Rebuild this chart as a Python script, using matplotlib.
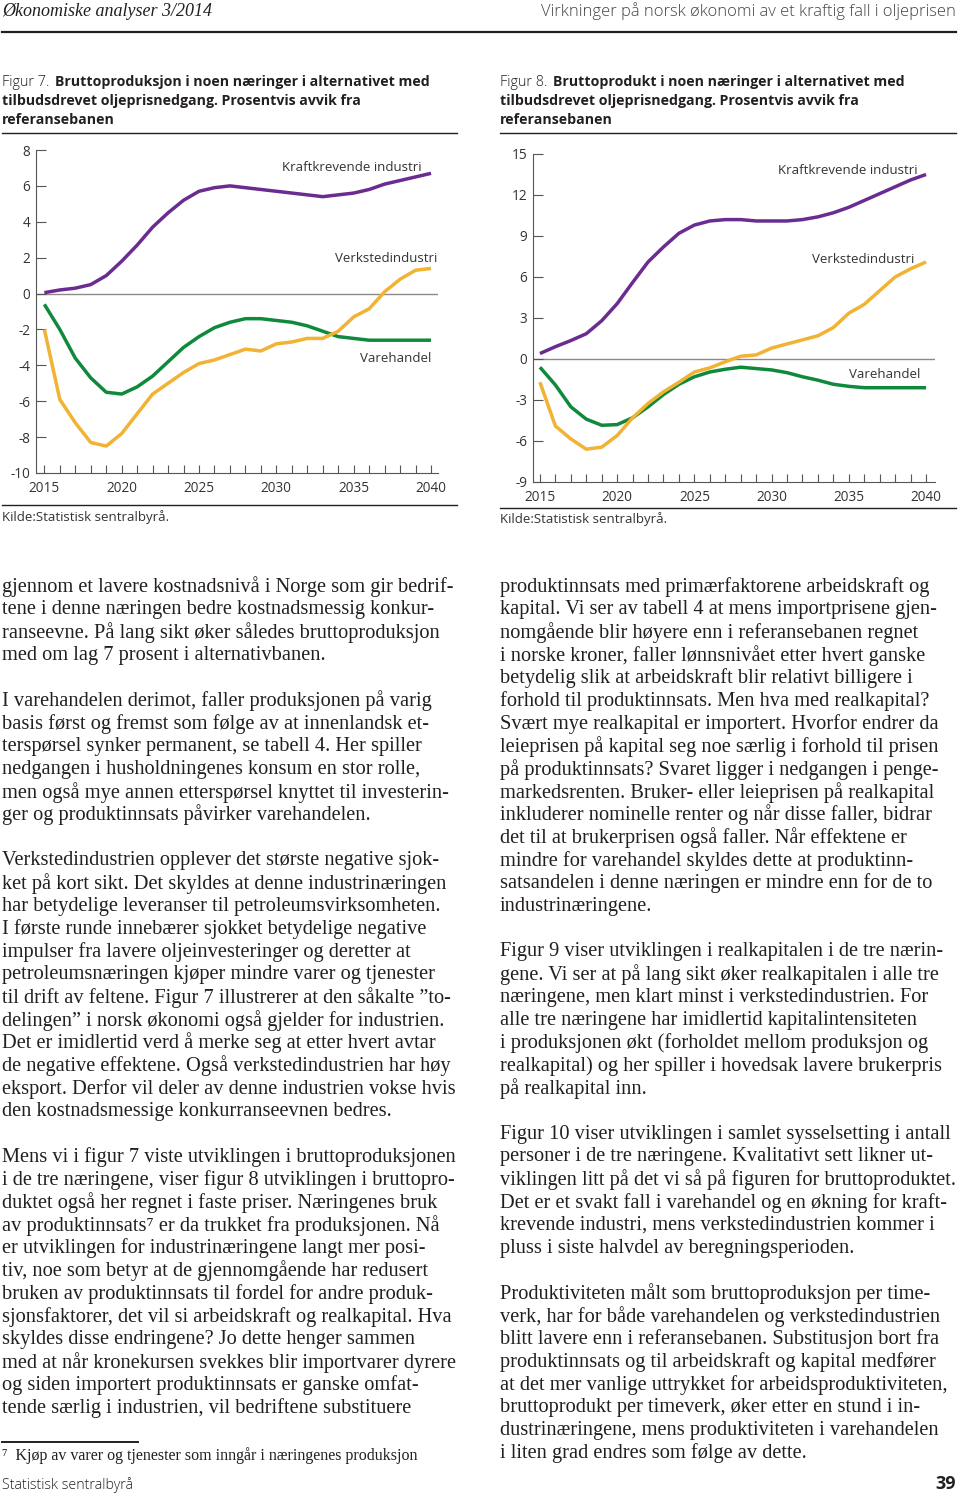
import numpy as np
import matplotlib.pyplot as plt
from matplotlib.lines import Line2D

# ---- data ----
years = np.arange(2015, 2041)

# Figur 7: Bruttoproduksjon, prosentvis avvik fra referansebanen
f7_kraft = [0.05, 0.2, 0.3, 0.5, 1.0, 1.8, 2.7, 3.7, 4.5, 5.2, 5.7, 5.9, 6.0,
            5.9, 5.8, 5.7, 5.6, 5.5, 5.4, 5.5, 5.6, 5.8, 6.1, 6.3, 6.5, 6.7]
f7_verksted = [-2.0, -5.9, -7.2, -8.3, -8.5, -7.8, -6.7, -5.6, -5.0, -4.4, -3.9,
               -3.7, -3.4, -3.1, -3.2, -2.8, -2.7, -2.5, -2.5, -2.1, -1.3, -0.85,
               0.1, 0.8, 1.3, 1.4]
f7_vare = [-0.6, -2.0, -3.6, -4.7, -5.5, -5.6, -5.2, -4.6, -3.8, -3.0, -2.4, -1.9,
           -1.6, -1.4, -1.4, -1.5, -1.6, -1.8, -2.1, -2.4, -2.5, -2.6, -2.6, -2.6,
           -2.6, -2.6]

# Figur 8: Bruttoprodukt
f8_kraft = [0.4, 0.9, 1.35, 1.85, 2.8, 4.05, 5.6, 7.1, 8.2, 9.2, 9.8, 10.1, 10.2,
            10.2, 10.1, 10.1, 10.1, 10.2, 10.4, 10.7, 11.1, 11.6, 12.1, 12.6, 13.1,
            13.5]
f8_verksted = [-1.7, -4.9, -5.85, -6.6, -6.45, -5.6, -4.3, -3.25, -2.4, -1.7, -0.95,
               -0.65, -0.2, 0.2, 0.3, 0.8, 1.1, 1.4, 1.7, 2.3, 3.35, 4.0, 5.0, 6.0,
               6.6, 7.1]
f8_vare = [-0.6, -1.9, -3.5, -4.4, -4.85, -4.8, -4.3, -3.5, -2.6, -1.85, -1.3,
           -0.95, -0.75, -0.6, -0.7, -0.8, -1.0, -1.3, -1.55, -1.85, -2.0, -2.1,
           -2.1, -2.1, -2.1, -2.1]

series_names = ["Kraftkrevende industri", "Verkstedindustri", "Varehandel"]
f7_yticks = [8, 6, 4, 2, 0, -2, -4, -6, -8, -10]
f8_yticks = [15, 12, 9, 6, 3, 0, -3, -6, -9]
xtick_years = [2015, 2020, 2025, 2030, 2035, 2040]

# ---- page text ----
left_col = [
    "gjennom et lavere kostnadsnivå i Norge som gir bedrif-",
    "tene i denne næringen bedre kostnadsmessig konkur-",
    "ranseevne. På lang sikt øker således bruttoproduksjon",
    "med om lag 7 prosent i alternativbanen.",
    "",
    "I varehandelen derimot, faller produksjonen på varig",
    "basis først og fremst som følge av at innenlandsk et-",
    "terspørsel synker permanent, se tabell 4. Her spiller",
    "nedgangen i husholdningenes konsum en stor rolle,",
    "men også mye annen etterspørsel knyttet til investerin-",
    "ger og produktinnsats påvirker varehandelen.",
    "",
    "Verkstedindustrien opplever det største negative sjok-",
    "ket på kort sikt. Det skyldes at denne industrinæringen",
    "har betydelige leveranser til petroleumsvirksomheten.",
    "I første runde innebærer sjokket betydelige negative",
    "impulser fra lavere oljeinvesteringer og deretter at",
    "petroleumsnæringen kjøper mindre varer og tjenester",
    "til drift av feltene. Figur 7 illustrerer at den såkalte \u201dto-",
    "delingen\u201d i norsk økonomi også gjelder for industrien.",
    "Det er imidlertid verd å merke seg at etter hvert avtar",
    "de negative effektene. Også verkstedindustrien har høy",
    "eksport. Derfor vil deler av denne industrien vokse hvis",
    "den kostnadsmessige konkurranseevnen bedres.",
    "",
    "Mens vi i figur 7 viste utviklingen i bruttoproduksjonen",
    "i de tre næringene, viser figur 8 utviklingen i bruttopro-",
    "duktet også her regnet i faste priser. Næringenes bruk",
    "av produktinnsats\u2077 er da trukket fra produksjonen. Nå",
    "er utviklingen for industrinæringene langt mer posi-",
    "tiv, noe som betyr at de gjennomgående har redusert",
    "bruken av produktinnsats til fordel for andre produk-",
    "sjonsfaktorer, det vil si arbeidskraft og realkapital. Hva",
    "skyldes disse endringene? Jo dette henger sammen",
    "med at når kronekursen svekkes blir importvarer dyrere",
    "og siden importert produktinnsats er ganske omfat-",
    "tende særlig i industrien, vil bedriftene substituere",
]
right_col = [
    "produktinnsats med primærfaktorene arbeidskraft og",
    "kapital. Vi ser av tabell 4 at mens importprisene gjen-",
    "nomgående blir høyere enn i referansebanen regnet",
    "i norske kroner, faller lønnsnivået etter hvert ganske",
    "betydelig slik at arbeidskraft blir relativt billigere i",
    "forhold til produktinnsats. Men hva med realkapital?",
    "Svært mye realkapital er importert. Hvorfor endrer da",
    "leieprisen på kapital seg noe særlig i forhold til prisen",
    "på produktinnsats? Svaret ligger i nedgangen i penge-",
    "markedsrenten. Bruker- eller leieprisen på realkapital",
    "inkluderer nominelle renter og når disse faller, bidrar",
    "det til at brukerprisen også faller. Når effektene er",
    "mindre for varehandel skyldes dette at produktinn-",
    "satsandelen i denne næringen er mindre enn for de to",
    "industrinæringene.",
    "",
    "Figur 9 viser utviklingen i realkapitalen i de tre nærin-",
    "gene. Vi ser at på lang sikt øker realkapitalen i alle tre",
    "næringene, men klart minst i verkstedindustrien. For",
    "alle tre næringene har imidlertid kapitalintensiteten",
    "i produksjonen økt (forholdet mellom produksjon og",
    "realkapital) og her spiller i hovedsak lavere brukerpris",
    "på realkapital inn.",
    "",
    "Figur 10 viser utviklingen i samlet sysselsetting i antall",
    "personer i de tre næringene. Kvalitativt sett likner ut-",
    "viklingen litt på det vi så på figuren for bruttoproduktet.",
    "Det er et svakt fall i varehandel og en økning for kraft-",
    "krevende industri, mens verkstedindustrien kommer i",
    "pluss i siste halvdel av beregningsperioden.",
    "",
    "Produktiviteten målt som bruttoproduksjon per time-",
    "verk, har for både varehandelen og verkstedindustrien",
    "blitt lavere enn i referansebanen. Substitusjon bort fra",
    "produktinnsats og til arbeidskraft og kapital medfører",
    "at det mer vanlige uttrykket for arbeidsproduktiviteten,",
    "bruttoprodukt per timeverk, øker etter en stund i in-",
    "dustrinæringene, mens produktiviteten i varehandelen",
    "i liten grad endres som følge av dette.",
]

# ---- styling ----
W, H = 960, 1497
PURPLE = "#6A2C91"
GREEN = "#0F8A3C"
YELLOW = "#F2B233"
TXT = "#231F20"
SANS = ["Open Sans", "DejaVu Sans"]
SERIF = ["Liberation Serif", "DejaVu Serif"]


def fx(x):
    return x / W


def fy(y):
    return 1 - y / H


def hline(fig, x0, x1, y, lw=1.0, color=TXT):
    fig.add_artist(Line2D([fx(x0), fx(x1)], [fy(y), fy(y)], lw=lw, color=color,
                          transform=fig.transFigure))


fig = plt.figure(figsize=(W / 100, H / 100), dpi=100, facecolor="white")

# header
fig.text(fx(2), fy(11), "Økonomiske analyser 3/2014", fontsize=13, style="italic",
         family=SERIF, color=TXT, va="center", ha="left")
fig.text(fx(956), fy(11), "Virkninger på norsk økonomi av et kraftig fall i oljeprisen",
         fontsize=11.9, family=SANS, color="#444444", va="center", ha="right",
         fontweight="light")
hline(fig, 2, 956, 32, lw=1.6)


def caption(x0, bold_x, num, lines):
    y = 82
    fig.text(fx(x0), fy(y), f"Figur {num}.", fontsize=10.4, family=SANS, color=TXT,
             va="center", ha="left", fontweight="light")
    fig.text(fx(bold_x), fy(y), lines[0], fontsize=10.2, family=SANS, color=TXT,
             va="center", ha="left", fontweight="bold")
    for i, ln in enumerate(lines[1:]):
        fig.text(fx(x0), fy(y + 19 * (i + 1)), ln, fontsize=10.2, family=SANS,
                 color=TXT, va="center", ha="left", fontweight="bold")


caption(2, 55, 7, ["Bruttoproduksjon i noen næringer i alternativet med",
                   "tilbudsdrevet oljeprisnedgang. Prosentvis avvik fra",
                   "referansebanen"])
caption(500, 553, 8, ["Bruttoprodukt i noen næringer i alternativet med",
                      "tilbudsdrevet oljeprisnedgang. Prosentvis avvik fra",
                      "referansebanen"])
hline(fig, 2, 457, 133, lw=1.0)
hline(fig, 500, 956, 133, lw=1.0)


def chart(left, right, top, bottom, xlim, ylim, yticks, kraft, verk, vare, lab_pos):
    ax = fig.add_axes([fx(left), fy(bottom), fx(right) - fx(left), (bottom - top) / H])
    ax.set_facecolor("none")
    ax.axhline(0, color="#8a8a8a", lw=1.0, zorder=1)
    ax.plot(years, kraft, color=PURPLE, lw=2.5, zorder=3, solid_capstyle="butt")
    ax.plot(years, vare, color=GREEN, lw=2.5, zorder=3, solid_capstyle="butt")
    ax.plot(years, verk, color=YELLOW, lw=2.5, zorder=4, solid_capstyle="butt")
    ax.set_xlim(*xlim)
    ax.set_ylim(*ylim)
    ax.set_yticks(yticks)
    ax.set_yticklabels([str(t) for t in yticks])
    ax.set_xticks(years, minor=True)
    ax.set_xticks(xtick_years)
    for s in ["top", "right"]:
        ax.spines[s].set_visible(False)
    for s in ["left", "bottom"]:
        ax.spines[s].set_color("#555555")
        ax.spines[s].set_linewidth(0.8)
    ax.tick_params(axis="y", direction="in", length=7, width=0.8, color="#555555",
                   labelsize=9.8, labelcolor="#333333", pad=4)
    ax.tick_params(axis="x", which="both", direction="in", length=6, width=0.8,
                   color="#555555", labelsize=9.8, labelcolor="#333333", pad=6)
    for lab in ax.get_xticklabels() + ax.get_yticklabels():
        lab.set_family(SANS)
    for name, (lx, ly) in zip(series_names, lab_pos):
        ax.text(lx, ly, name, ha="center", va="center", fontsize=9.5,
                family=SANS, color="#333333")
    return ax


chart(36, 438, 150, 473, (2014.46, 2040.45), (-10, 8), f7_yticks,
      f7_kraft, f7_verksted, f7_vare,
      [(2034.9, 7.05), (2037.1, 1.98), (2037.7, -3.6)])
chart(533, 935, 154, 482, (2014.55, 2040.58), (-9, 15), f8_yticks,
      f8_kraft, f8_verksted, f8_vare,
      [(2034.95, 13.76), (2035.9, 7.25), (2037.3, -1.17)])

hline(fig, 2, 457, 505, lw=1.0)
hline(fig, 500, 956, 508, lw=1.0)
fig.text(fx(2), fy(517), "Kilde:Statistisk sentralbyrå.", fontsize=9.5, family=SANS,
         color="#333333", va="center", ha="left")
fig.text(fx(500), fy(519), "Kilde:Statistisk sentralbyrå.", fontsize=9.5, family=SANS,
         color="#333333", va="center", ha="left")

# body text
LINE = 22.8
for col, x0 in ((left_col, 2), (right_col, 500)):
    for i, ln in enumerate(col):
        if ln:
            fig.text(fx(x0), fy(587 + i * LINE), ln, fontsize=14.7, family=SERIF,
                     color=TXT, va="center", ha="left")

# footnote and footer
hline(fig, 2, 138, 1442, lw=1.4)
fig.text(fx(2), fy(1456), "\u2077  Kjøp av varer og tjenester som inngår i næringenes produksjon",
         fontsize=11.5, family=SERIF, color=TXT, va="center", ha="left")
fig.text(fx(2), fy(1485), "Statistisk sentralbyrå", fontsize=10.3, family=SANS,
         color=TXT, va="center", ha="left", fontweight="light")
fig.text(fx(956), fy(1484), "39", fontsize=13, family=SANS, color=TXT,
         va="center", ha="right", fontweight="bold")

fig.savefig("out.png", dpi=100, facecolor="white")
